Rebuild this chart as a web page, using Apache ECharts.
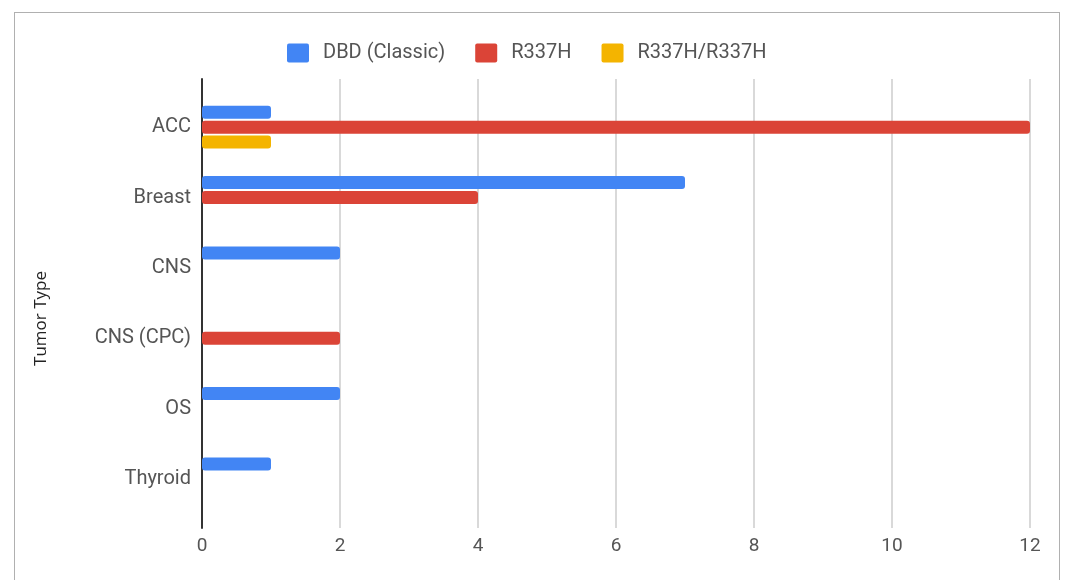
<!DOCTYPE html>
<html>
<head>
<meta charset="utf-8">
<script src="https://cdn.jsdelivr.net/npm/echarts@6/dist/echarts.min.js"></script>
<style>
  html, body { margin:0; padding:0; background:#fff; }
  #frame { position:absolute; left:14px; top:12px; width:1046px; height:600px; border:1px solid #b0b0b0; box-sizing:border-box; }
  #chart { position:absolute; left:0; top:0; width:1065px; height:580px; }
</style>
</head>
<body>
<div id="frame"></div>
<div id="chart"></div>
<script>
// tumor types, top to bottom
const tumorTypes = ['ACC', 'Breast', 'CNS', 'CNS (CPC)', 'OS', 'Thyroid'];
const seriesNames = ['DBD (Classic)', 'R337H', 'R337H/R337H'];
const dbdClassic = [1, 7, 2, null, 2, 1];
const r337h = [12, 4, null, 2, null, null];
const r337hHomo = [1, null, null, null, null, null];
const xTicks = [0, 2, 4, 6, 8, 10, 12];

const colors = ['#4285f4', '#db4437', '#f4b400'];
const txt = '#555555';

const myChart = echarts.init(document.getElementById('chart'));

const bar = (name, data) => ({
  name: name,
  type: 'bar',
  xAxisIndex: 1,
  yAxisIndex: 1,
  data: data,
  barWidth: 13,
  barGap: '15%',
  itemStyle: { borderRadius: 3 },
  emphasis: { disabled: true }
});

myChart.setOption({
  animation: false,
  color: colors,
  textStyle: { fontFamily: 'Roboto, sans-serif' },
  legend: {
    left: 282,
    top: 38,
    icon: 'path://M2,0 H20 Q22,0 22,2 V17 Q22,19 20,19 H2 Q0,19 0,17 V2 Q0,0 2,0 Z',
    itemWidth: 22,
    itemHeight: 19,
    itemGap: 30,
    textStyle: { fontSize: 20, color: txt, padding: [0, 0, 0, 9] },
    data: seriesNames
  },
  grid: [
    { left: 202, right: 35, top: 79, bottom: 52 },
    { left: 202, right: 35, top: 92, bottom: 66 }
  ],
  xAxis: [
    {
      gridIndex: 0,
      type: 'value',
      min: xTicks[0],
      max: xTicks[xTicks.length - 1],
      interval: 2,
      axisLine: { show: false },
      axisTick: { show: false },
      axisLabel: { fontSize: 19, color: txt, margin: 9 },
      splitLine: { lineStyle: { color: '#cccccc', width: 1.5 } }
    },
    {
      gridIndex: 1,
      type: 'value',
      min: xTicks[0],
      max: xTicks[xTicks.length - 1],
      show: false
    }
  ],
  yAxis: [
    {
      gridIndex: 0,
      type: 'value',
      name: 'Tumor Type',
      nameLocation: 'middle',
      nameGap: 152,
      nameRotate: 90,
      nameTextStyle: { fontSize: 17, color: '#222', fontFamily: 'Open Sans, sans-serif', padding: [0, 30, 0, 0] },
      axisLine: { show: true, lineStyle: { color: '#333', width: 2 } },
      axisTick: { show: false },
      axisLabel: { show: false },
      splitLine: { show: false }
    },
    {
      gridIndex: 1,
      type: 'category',
      inverse: true,
      data: tumorTypes,
      axisLine: { show: false },
      axisTick: { show: false },
      axisLabel: { fontSize: 20, color: txt, margin: 11 }
    }
  ],
  series: [
    bar(seriesNames[0], dbdClassic),
    bar(seriesNames[1], r337h),
    bar(seriesNames[2], r337hHomo)
  ]
});
</script>
</body>
</html>
